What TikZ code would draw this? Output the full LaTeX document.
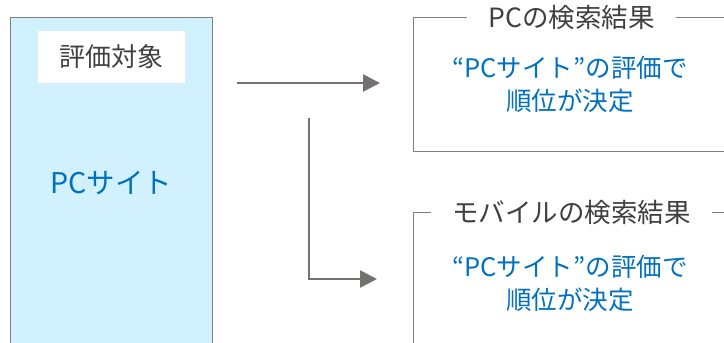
\documentclass[tikz,border=0pt]{standalone}
\usepackage{fontspec}
\newfontfamily\jp{Noto Sans CJK JP}
\usetikzlibrary{arrows.meta}
\definecolor{txtgray}{HTML}{404040}
\definecolor{txtblue}{HTML}{0070C0}
\definecolor{boxfill}{HTML}{D0F1FD}
\definecolor{linegray}{HTML}{7F7F7F}
\definecolor{arrowgray}{HTML}{767171}
\tikzset{
  panel/.style={draw=linegray, line width=1.3pt, inner sep=0pt},
  titletext/.style={fill=white, text=txtgray, font=\jp\fontsize{26.5}{30}\selectfont, inner sep=0pt},
  bluetext/.style={text=txtblue, align=center, font=\jp\fontsize{25.5}{33}\selectfont, inner sep=0pt},
  flow/.style={draw=arrowgray, line width=2.7pt, -{Triangle[length=17pt,width=17pt]}},
}
\begin{document}
\begin{tikzpicture}[x=1pt,y=-1pt]
\useasboundingbox (0,0) rectangle (724,343);
\clip (0,0) rectangle (724,343);
% left panel
\node[panel, fill=boxfill, minimum width=202.5pt, minimum height=360pt, anchor=north west] (left) at (9.5,17) {};
\node[fill=white, minimum width=147pt, minimum height=52pt, inner sep=0pt, anchor=north west] (lbl) at (38,31) {};
\node[text=txtgray, font=\jp\fontsize{26}{30}\selectfont, inner sep=0pt] (lbltext) at (111.5,57) {評価対象};
\node[text=txtblue, font=\jp\fontsize{28.5}{32}\selectfont, inner sep=0pt] (pcsite) at (111.5,183) {PCサイト};
% right panels
\node[panel, minimum width=330pt, minimum height=134pt, anchor=north west] (pcbox) at (413,17) {};
\node[panel, minimum width=330pt, minimum height=200pt, anchor=north west] (mbbox) at (413,212) {};
\node[titletext, minimum width=209pt, minimum height=6pt] (pctitle) at (571.5,17) {PCの検索結果};
\node[titletext, minimum width=281pt, minimum height=6pt] (mbtitle) at (571.5,212) {モバイルの検索結果};
\node[bluetext] (pcbody) at (570,84) {“PCサイト”の評価で\\順位が決定};
\node[bluetext] (mbbody) at (570,283) {“PCサイト”の評価で\\順位が決定};
% arrows
\coordinate (a1s) at (237,83);
\coordinate (a1e) at (380,83);
\coordinate (a2s) at (309,118);
\coordinate (a2c) at (309,279);
\coordinate (a2e) at (377,279);
\draw[flow] (a1s) -- (a1e);
\draw[flow] (a2s) -- (a2c) -- (a2e);
\end{tikzpicture}
\end{document}
